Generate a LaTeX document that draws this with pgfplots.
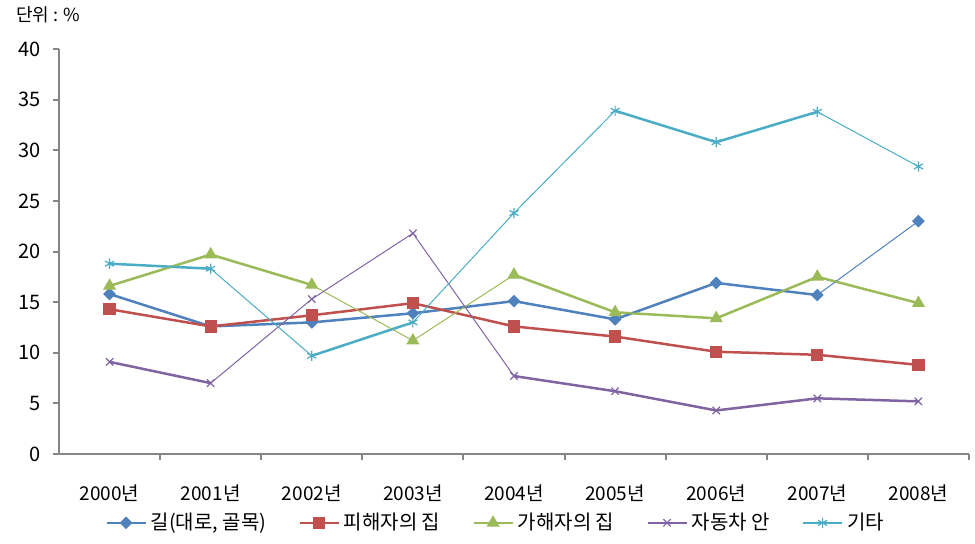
\documentclass[border=0pt]{standalone}
\usepackage{fontspec}
\setmainfont{Noto Sans CJK KR}
\usepackage{pgfplots}
\pgfplotsset{compat=1.18}
\definecolor{cB}{HTML}{4F81BD}
\definecolor{cR}{HTML}{C0504D}
\definecolor{cG}{HTML}{9BBB59}
\definecolor{cP}{HTML}{8064A2}
\definecolor{cC}{HTML}{4BACC6}
\definecolor{axgray}{HTML}{868686}
\begin{document}
\fontsize{9pt}{11pt}\selectfont
\begin{tikzpicture}
\begin{axis}[name=ax, scale only axis, width=455pt, height=202.5pt,
  xmin=-0.5, xmax=8.5, ymin=0, ymax=40,
  axis x line=bottom, axis y line=left,
  axis line style={-, draw=axgray, line width=1pt},
  tick align=outside, major tick length=3pt, minor tick length=3pt,
  tick style={draw=axgray, line width=1pt},
  xtick={0,...,8},
  xticklabels={2000년,2001년,2002년,2003년,2004년,2005년,2006년,2007년,2008년},
  xtick style={draw=none},
  minor xtick={0.5,1.5,...,8.5},
  minor x tick style={draw=axgray, line width=1pt},
  ytick={0,5,...,40},
  /pgf/number format/assume math mode=true,
  xticklabel style={yshift=-9pt, font=\fontsize{9.5pt}{11pt}\selectfont},
  yticklabel style={xshift=-3pt, font=\fontsize{10pt}{12pt}\selectfont},
  unbounded coords=jump,
  legend columns=5,
  legend cell align=left,
  legend style={draw=none, at={(0.481,-0.17)}, anchor=center,
    font=\fontsize{10pt}{12pt}\selectfont,
    /tikz/every even column/.append style={column sep=14pt}},
  legend image code/.code={\draw[mark repeat=2,mark phase=2] plot coordinates {(0pt,0pt)(9.75pt,0pt)(19.5pt,0pt)};},
  legend image post style={line width=1.25pt},
]
% thick segments (drawn beneath)
\addplot[forget plot, cB, line width=1.25pt, no markers] coordinates {(0,15.8)(1,12.6)(2,13.0)(3,13.9)(4,15.1)(5,13.3)(6,16.9)(7,15.7)};
\addplot[forget plot, cG, line width=1.25pt, no markers] coordinates {(0,16.6)(1,19.7)(2,16.7)(2.5,nan)(4,17.7)(5,14.0)(6,13.4)(7,17.5)(8,14.9)};
\addplot[forget plot, cP, line width=1.25pt, no markers] coordinates {(0,9.1)(1,7.0)(1.5,nan)(4,7.7)(5,6.2)(6,4.3)(7,5.5)(8,5.2)};
\addplot[forget plot, cC, line width=1.25pt, no markers] coordinates {(0,18.8)(1,18.3)(1.5,nan)(2,9.7)(3,13.0)(3.5,nan)(5,33.9)(6,30.8)(7,33.8)};
% main series
\addplot[cB, line width=0.5pt, mark=square*, mark size=2pt, mark options={rotate=45, fill=cB, line width=0.5pt}] coordinates {(0,15.8)(1,12.6)(2,13.0)(3,13.9)(4,15.1)(5,13.3)(6,16.9)(7,15.7)(8,23.0)};
\addlegendentry{길(대로, 골목)}
\addplot[cR, line width=1.25pt, mark=square*, mark size=2.8pt, mark options={fill=cR, line width=0.5pt}] coordinates {(0,14.3)(1,12.6)(2,13.7)(3,14.9)(4,12.6)(5,11.6)(6,10.1)(7,9.8)(8,8.8)};
\addlegendentry{피해자의 집}
\addplot[cG, line width=0.5pt, mark=triangle*, mark size=3.3pt, mark options={fill=cG, line width=0.5pt}] coordinates {(0,16.6)(1,19.7)(2,16.7)(3,11.2)(4,17.7)(5,14.0)(6,13.4)(7,17.5)(8,14.9)};
\addlegendentry{가해자의 집}
\addplot[cP, line width=0.5pt, mark=x, mark size=2.6pt, mark options={line width=0.6pt}] coordinates {(0,9.1)(1,7.0)(2,15.3)(3,21.8)(4,7.7)(5,6.2)(6,4.3)(7,5.5)(8,5.2)};
\addlegendentry{자동차 안}
\addplot[cC, line width=0.5pt, mark=asterisk, mark size=2.6pt, mark options={line width=0.6pt}] coordinates {(0,18.8)(1,18.3)(2,9.7)(3,13.0)(4,23.8)(5,33.9)(6,30.8)(7,33.8)(8,28.4)};
\addlegendentry{기타}
\end{axis}
\node[anchor=west, inner sep=0pt] at ([xshift=-21.6pt, yshift=17pt]ax.north west) {단위 : \%};
\pgfresetboundingbox
\path (ax.south west) ++(-29.5pt,-44.5pt) rectangle ++(487.5pt,271.5pt);
\end{tikzpicture}
\end{document}
